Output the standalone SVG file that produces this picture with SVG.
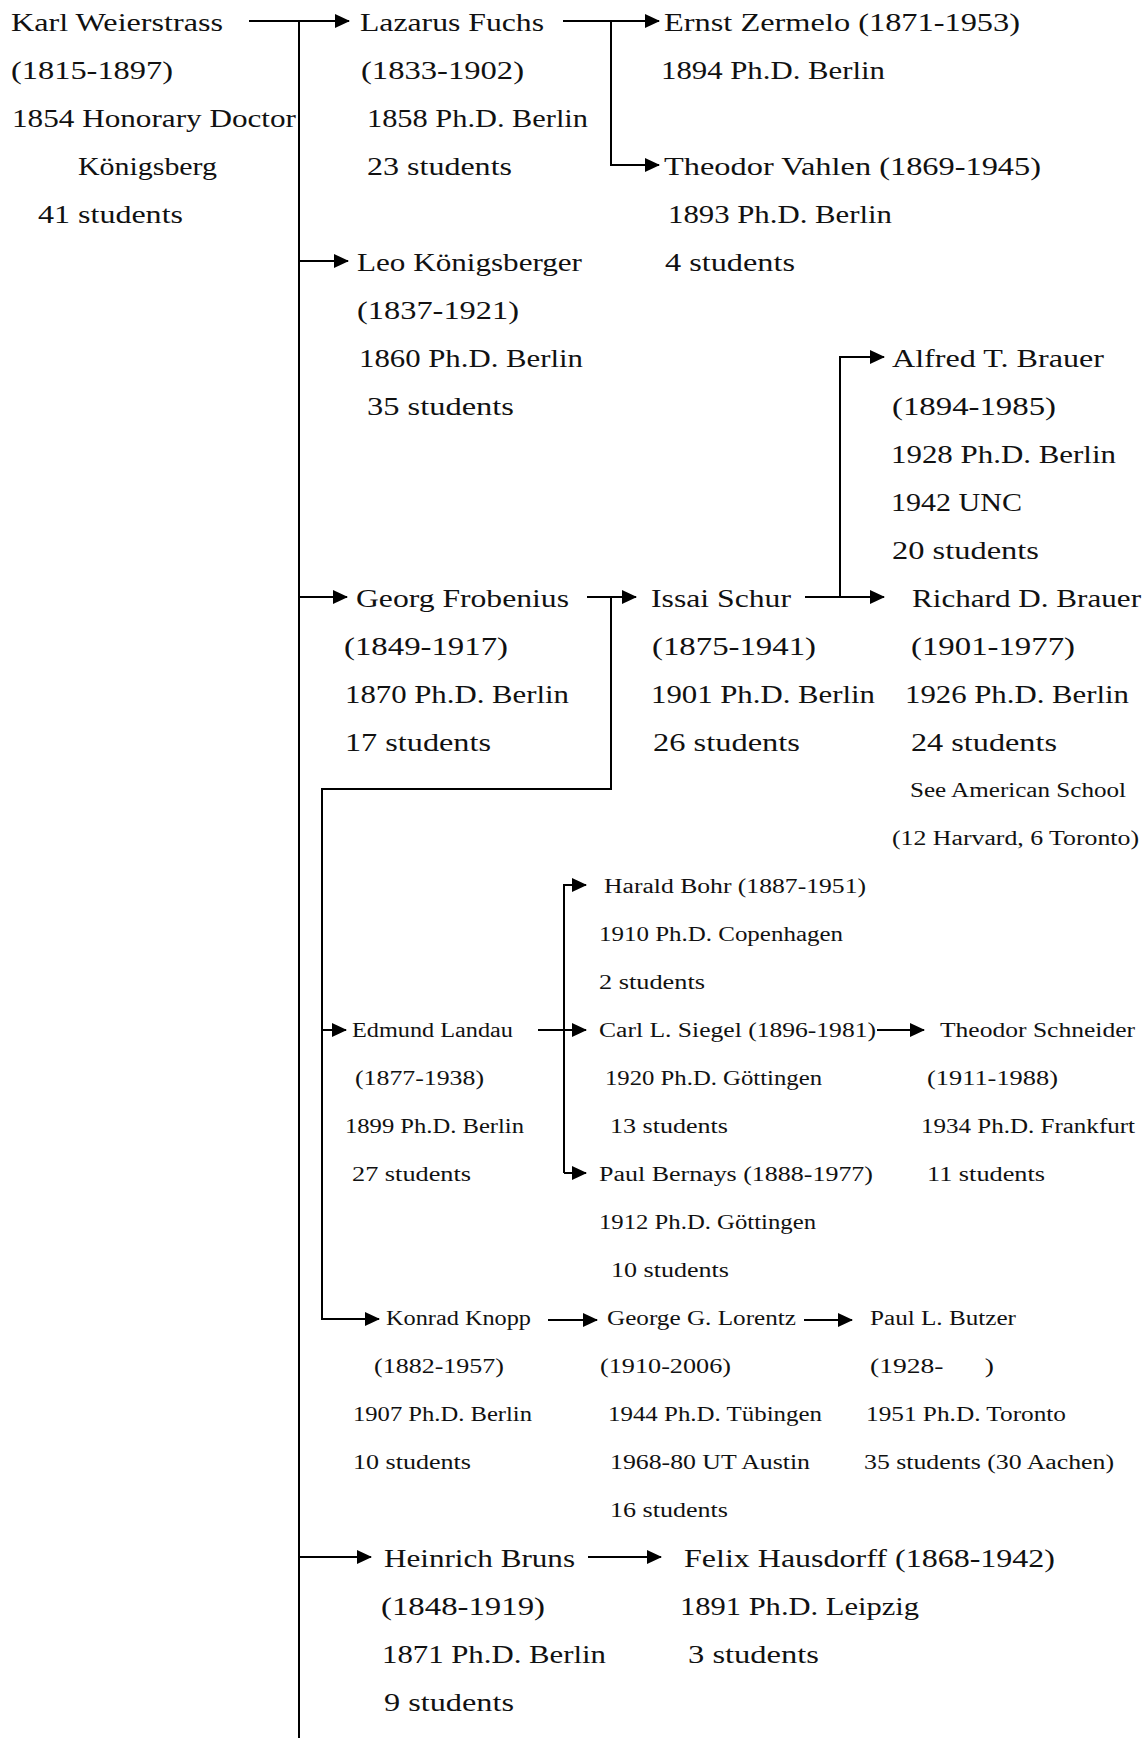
<svg xmlns="http://www.w3.org/2000/svg" width="1147" height="1738" viewBox="0 0 1147 1738">
<style>
text { font-family: "Liberation Serif", "Times New Roman", serif; font-size: 25px; fill: #111; }
text.s { font-size: 20px; }
.c path { fill: none; stroke: #000; stroke-width: 2; }
</style>
<defs>
<marker id="ah" markerUnits="userSpaceOnUse" markerWidth="15" markerHeight="14" refX="14" refY="7" orient="auto">
<path d="M0,0 L15,7 L0,14 Z" fill="#000"/>
</marker>
</defs>
<rect width="1147" height="1738" fill="#fff"/>
<g class="c" id="connectors">
<path d="M249,21 H349" marker-end="url(#ah)"/>
<path d="M299,21 V1738"/>
<path d="M563,21 H659" marker-end="url(#ah)"/>
<path d="M611,21 V165 H659" marker-end="url(#ah)"/>
<path d="M299,261 H348" marker-end="url(#ah)"/>
<path d="M299,597 H347" marker-end="url(#ah)"/>
<path d="M587,597 H636" marker-end="url(#ah)"/>
<path d="M611,597 V789 H322 V1319 H379" marker-end="url(#ah)"/>
<path d="M805,597 H884" marker-end="url(#ah)"/>
<path d="M840,597 V357 H884" marker-end="url(#ah)"/>
<path d="M322,1030 H346" marker-end="url(#ah)"/>
<path d="M538,1030 H586" marker-end="url(#ah)"/>
<path d="M564,1173 V885 H586" marker-end="url(#ah)"/>
<path d="M564,1173 H586" marker-end="url(#ah)"/>
<path d="M877,1030 H924" marker-end="url(#ah)"/>
<path d="M548,1320 H597" marker-end="url(#ah)"/>
<path d="M804,1320 H852" marker-end="url(#ah)"/>
<path d="M299,1557 H371" marker-end="url(#ah)"/>
<path d="M588,1557 H661" marker-end="url(#ah)"/>
</g>
<g id="weierstrass">
<text x="11" y="31" textLength="212" lengthAdjust="spacingAndGlyphs">Karl Weierstrass</text>
<text x="11" y="79" textLength="162" lengthAdjust="spacingAndGlyphs">(1815-1897)</text>
<text x="12" y="127" textLength="284" lengthAdjust="spacingAndGlyphs">1854 Honorary Doctor</text>
<text x="78" y="175" textLength="139" lengthAdjust="spacingAndGlyphs">Königsberg</text>
<text x="38" y="223" textLength="145" lengthAdjust="spacingAndGlyphs">41 students</text>
</g>
<g id="fuchs">
<text x="360" y="31" textLength="184" lengthAdjust="spacingAndGlyphs">Lazarus Fuchs</text>
<text x="361" y="79" textLength="163" lengthAdjust="spacingAndGlyphs">(1833-1902)</text>
<text x="367" y="127" textLength="221" lengthAdjust="spacingAndGlyphs">1858 Ph.D. Berlin</text>
<text x="367" y="175" textLength="145" lengthAdjust="spacingAndGlyphs">23 students</text>
</g>
<g id="zermelo">
<text x="664" y="31" textLength="356" lengthAdjust="spacingAndGlyphs">Ernst Zermelo (1871-1953)</text>
<text x="661" y="79" textLength="224" lengthAdjust="spacingAndGlyphs">1894 Ph.D. Berlin</text>
</g>
<g id="vahlen">
<text x="664" y="175" textLength="377" lengthAdjust="spacingAndGlyphs">Theodor Vahlen (1869-1945)</text>
<text x="668" y="223" textLength="224" lengthAdjust="spacingAndGlyphs">1893 Ph.D. Berlin</text>
<text x="665" y="271" textLength="130" lengthAdjust="spacingAndGlyphs">4 students</text>
</g>
<g id="koenigsberger">
<text x="357" y="271" textLength="225" lengthAdjust="spacingAndGlyphs">Leo Königsberger</text>
<text x="357" y="319" textLength="162" lengthAdjust="spacingAndGlyphs">(1837-1921)</text>
<text x="359" y="367" textLength="224" lengthAdjust="spacingAndGlyphs">1860 Ph.D. Berlin</text>
<text x="367" y="415" textLength="147" lengthAdjust="spacingAndGlyphs">35 students</text>
</g>
<g id="alfred-brauer">
<text x="892" y="367" textLength="212" lengthAdjust="spacingAndGlyphs">Alfred T. Brauer</text>
<text x="892" y="415" textLength="164" lengthAdjust="spacingAndGlyphs">(1894-1985)</text>
<text x="891" y="463" textLength="225" lengthAdjust="spacingAndGlyphs">1928 Ph.D. Berlin</text>
<text x="891" y="511" textLength="131" lengthAdjust="spacingAndGlyphs">1942 UNC</text>
<text x="892" y="559" textLength="147" lengthAdjust="spacingAndGlyphs">20 students</text>
</g>
<g id="frobenius">
<text x="356" y="607" textLength="213" lengthAdjust="spacingAndGlyphs">Georg Frobenius</text>
<text x="344" y="655" textLength="164" lengthAdjust="spacingAndGlyphs">(1849-1917)</text>
<text x="345" y="703" textLength="224" lengthAdjust="spacingAndGlyphs">1870 Ph.D. Berlin</text>
<text x="345" y="751" textLength="146" lengthAdjust="spacingAndGlyphs">17 students</text>
</g>
<g id="schur">
<text x="651" y="607" textLength="140" lengthAdjust="spacingAndGlyphs">Issai Schur</text>
<text x="652" y="655" textLength="164" lengthAdjust="spacingAndGlyphs">(1875-1941)</text>
<text x="651" y="703" textLength="224" lengthAdjust="spacingAndGlyphs">1901 Ph.D. Berlin</text>
<text x="653" y="751" textLength="147" lengthAdjust="spacingAndGlyphs">26 students</text>
</g>
<g id="richard-brauer">
<text x="912" y="607" textLength="229" lengthAdjust="spacingAndGlyphs">Richard D. Brauer</text>
<text x="911" y="655" textLength="164" lengthAdjust="spacingAndGlyphs">(1901-1977)</text>
<text x="905" y="703" textLength="224" lengthAdjust="spacingAndGlyphs">1926 Ph.D. Berlin</text>
<text x="911" y="751" textLength="146" lengthAdjust="spacingAndGlyphs">24 students</text>
<text class="s" x="910" y="797" textLength="216" lengthAdjust="spacingAndGlyphs">See American School</text>
<text class="s" x="892" y="845" textLength="247" lengthAdjust="spacingAndGlyphs">(12 Harvard, 6 Toronto)</text>
</g>
<g id="bohr">
<text class="s" x="604" y="893" textLength="262" lengthAdjust="spacingAndGlyphs">Harald Bohr (1887-1951)</text>
<text class="s" x="599" y="941" textLength="244" lengthAdjust="spacingAndGlyphs">1910 Ph.D. Copenhagen</text>
<text class="s" x="599" y="989" textLength="106" lengthAdjust="spacingAndGlyphs">2 students</text>
</g>
<g id="landau">
<text class="s" x="352" y="1037" textLength="161" lengthAdjust="spacingAndGlyphs">Edmund Landau</text>
<text class="s" x="355" y="1085" textLength="129" lengthAdjust="spacingAndGlyphs">(1877-1938)</text>
<text class="s" x="345" y="1133" textLength="179" lengthAdjust="spacingAndGlyphs">1899 Ph.D. Berlin</text>
<text class="s" x="352" y="1181" textLength="119" lengthAdjust="spacingAndGlyphs">27 students</text>
</g>
<g id="siegel">
<text class="s" x="599" y="1037" textLength="277" lengthAdjust="spacingAndGlyphs">Carl L. Siegel (1896-1981)</text>
<text class="s" x="605" y="1085" textLength="217" lengthAdjust="spacingAndGlyphs">1920 Ph.D. Göttingen</text>
<text class="s" x="610" y="1133" textLength="118" lengthAdjust="spacingAndGlyphs">13 students</text>
</g>
<g id="schneider">
<text class="s" x="940" y="1037" textLength="195" lengthAdjust="spacingAndGlyphs">Theodor Schneider</text>
<text class="s" x="927" y="1085" textLength="131" lengthAdjust="spacingAndGlyphs">(1911-1988)</text>
<text class="s" x="921" y="1133" textLength="214" lengthAdjust="spacingAndGlyphs">1934 Ph.D. Frankfurt</text>
<text class="s" x="927" y="1181" textLength="118" lengthAdjust="spacingAndGlyphs">11 students</text>
</g>
<g id="bernays">
<text class="s" x="599" y="1181" textLength="274" lengthAdjust="spacingAndGlyphs">Paul Bernays (1888-1977)</text>
<text class="s" x="599" y="1229" textLength="217" lengthAdjust="spacingAndGlyphs">1912 Ph.D. Göttingen</text>
<text class="s" x="611" y="1277" textLength="118" lengthAdjust="spacingAndGlyphs">10 students</text>
</g>
<g id="knopp">
<text class="s" x="386" y="1325" textLength="145" lengthAdjust="spacingAndGlyphs">Konrad Knopp</text>
<text class="s" x="374" y="1373" textLength="130" lengthAdjust="spacingAndGlyphs">(1882-1957)</text>
<text class="s" x="353" y="1421" textLength="179" lengthAdjust="spacingAndGlyphs">1907 Ph.D. Berlin</text>
<text class="s" x="353" y="1469" textLength="118" lengthAdjust="spacingAndGlyphs">10 students</text>
</g>
<g id="lorentz">
<text class="s" x="607" y="1325" textLength="189" lengthAdjust="spacingAndGlyphs">George G. Lorentz</text>
<text class="s" x="600" y="1373" textLength="131" lengthAdjust="spacingAndGlyphs">(1910-2006)</text>
<text class="s" x="608" y="1421" textLength="214" lengthAdjust="spacingAndGlyphs">1944 Ph.D. Tübingen</text>
<text class="s" x="610" y="1469" textLength="200" lengthAdjust="spacingAndGlyphs">1968-80 UT Austin</text>
<text class="s" x="610" y="1517" textLength="118" lengthAdjust="spacingAndGlyphs">16 students</text>
</g>
<g id="butzer">
<text class="s" x="870" y="1325" textLength="146" lengthAdjust="spacingAndGlyphs">Paul L. Butzer</text>
<text class="s" x="870" y="1373" textLength="124" lengthAdjust="spacingAndGlyphs" xml:space="preserve">(1928-      )</text>
<text class="s" x="866" y="1421" textLength="200" lengthAdjust="spacingAndGlyphs">1951 Ph.D. Toronto</text>
<text class="s" x="864" y="1469" textLength="250" lengthAdjust="spacingAndGlyphs">35 students (30 Aachen)</text>
</g>
<g id="bruns">
<text x="384" y="1567" textLength="191" lengthAdjust="spacingAndGlyphs">Heinrich Bruns</text>
<text x="381" y="1615" textLength="164" lengthAdjust="spacingAndGlyphs">(1848-1919)</text>
<text x="382" y="1663" textLength="224" lengthAdjust="spacingAndGlyphs">1871 Ph.D. Berlin</text>
<text x="384" y="1711" textLength="130" lengthAdjust="spacingAndGlyphs">9 students</text>
</g>
<g id="hausdorff">
<text x="684" y="1567" textLength="371" lengthAdjust="spacingAndGlyphs">Felix Hausdorff (1868-1942)</text>
<text x="680" y="1615" textLength="239" lengthAdjust="spacingAndGlyphs">1891 Ph.D. Leipzig</text>
<text x="688" y="1663" textLength="131" lengthAdjust="spacingAndGlyphs">3 students</text>
</g>
</svg>
